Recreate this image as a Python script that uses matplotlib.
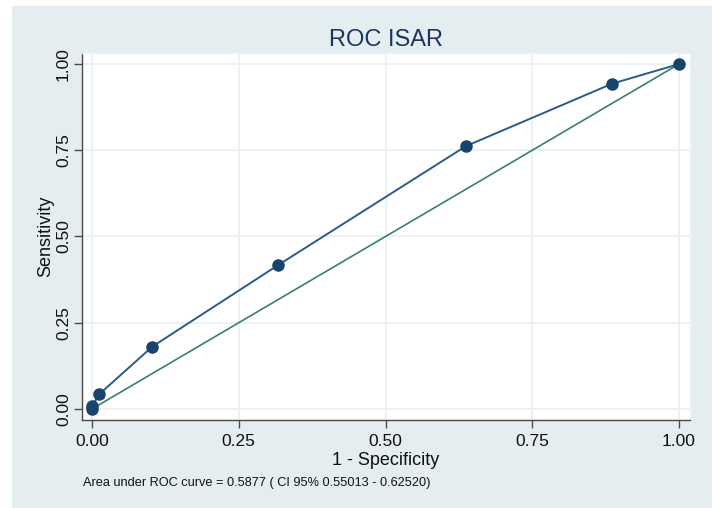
import matplotlib
matplotlib.use("Agg")
import matplotlib.pyplot as plt
from matplotlib.patches import Rectangle
from matplotlib import font_manager

fams = {f.name for f in font_manager.fontManager.ttflist}
FONT = "Liberation Sans Narrow" if "Liberation Sans Narrow" in fams else "Liberation Sans"
plt.rcParams['font.family'] = [FONT, 'DejaVu Sans']

# data
fpr = [0.0, 0.0, 0.0125, 0.103, 0.317, 0.637, 0.886, 1.0]
tpr = [0.0, 0.008, 0.043, 0.181, 0.417, 0.762, 0.943, 1.0]
ref = [0.0, 1.0]
ticks = [0.0, 0.25, 0.5, 0.75, 1.0]
tick_labels = ["0.00", "0.25", "0.50", "0.75", "1.00"]
title = "ROC ISAR"
note = "Area under ROC curve = 0.5877 ( CI 95% 0.55013 - 0.62520)"

W, H = 712, 508
fig = plt.figure(figsize=(W / 100, H / 100), dpi=100, facecolor="white")
bg = "#e4eef0"
fig.patches.append(Rectangle((12 / W, 0), 1 - 12 / W, (H - 6) / H,
                             transform=fig.transFigure, facecolor=bg,
                             edgecolor="none", zorder=-10))

ax = fig.add_axes([82 / W, (H - 420) / H, (690 - 82) / W, (420 - 53) / H])
ax.set_zorder(1)
ax.set_facecolor("white")
ax.set_xlim(-0.017, 1.0187)
ax.set_ylim(-0.032, 1.032)

ax.plot(ref, ref, color="#35826c", lw=1.2, zorder=2)
ax.plot(fpr, tpr, color="#2b5a8c", lw=1.4, zorder=3)
ax.plot(fpr, tpr, "o", color="#18446c", ms=8, zorder=4)

ax.set_xticks(ticks)
ax.set_xticklabels(tick_labels)
ax.set_yticks(ticks)
ax.set_yticklabels(tick_labels, rotation=90, va="center")
ax.grid(True, color="#e9f1f3", lw=1.3, zorder=1)
ax.set_axisbelow(True)

for s in ["top", "right"]:
    ax.spines[s].set_color("#eef4f5")
    ax.spines[s].set_linewidth(1.0)
for s in ["left", "bottom"]:
    ax.spines[s].set_color("#4a4a4a")
    ax.spines[s].set_linewidth(1.0)
ax.tick_params(axis="both", direction="out", length=6, width=1.0,
               color="#4a4a4a", labelsize=12.5, labelcolor="#111111")
ax.tick_params(axis="y", pad=2)
ax.tick_params(axis="x", pad=4)

ax.set_xlabel("1 - Specificity", fontsize=13, color="#111111", labelpad=2)
ax.set_ylabel("Sensitivity", fontsize=13, color="#111111", labelpad=1)
ax.set_title(title, fontsize=17, color="#1a3560", pad=5)

fig.text(83 / W, 1 - 483 / H, note, fontsize=9.2, color="#111111",
         ha="left", va="center")

fig.savefig("out.png", dpi=100, facecolor=fig.get_facecolor())
